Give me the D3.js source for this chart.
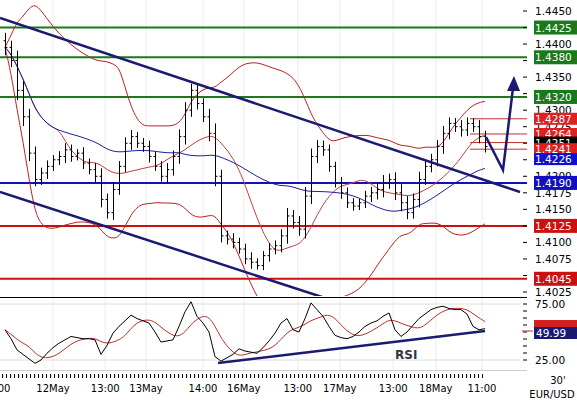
<!DOCTYPE html>
<html><head><meta charset="utf-8">
<script src="https://cdn.jsdelivr.net/npm/d3@7"></script>
<style>body{margin:0;background:#fff}svg{display:block;font-family:"DejaVu Sans",Verdana,sans-serif}</style>
</head><body><svg id="chart" width="577" height="402"></svg>
<script>
// EUR/USD 30' closes
const closes = [1.4395,1.4375,1.4330,1.4290,1.4235,1.4195,1.4205,1.4215,1.4225,1.4230,
  1.4240,1.4230,1.4235,1.4220,1.4210,1.4200,1.4165,1.4145,1.4180,1.4215,
  1.4250,1.4260,1.4250,1.4245,1.4230,1.4215,1.4200,1.4210,1.4230,1.4260,
  1.4300,1.4330,1.4310,1.4290,1.4265,1.4200,1.4110,1.4105,1.4100,1.4090,
  1.4075,1.4070,1.4065,1.4080,1.4090,1.4095,1.4110,1.4140,1.4130,1.4120,
  1.4170,1.4230,1.4245,1.4240,1.4215,1.4190,1.4175,1.4160,1.4155,1.4160,
  1.4170,1.4175,1.4180,1.4190,1.4195,1.4175,1.4160,1.4145,1.4165,1.4195,
  1.4215,1.4225,1.4245,1.4265,1.4280,1.4275,1.4270,1.4280,1.4275,1.4260,1.4245];
// bar extension beyond open/close, in pips
const ranges = [12,10,15,14,12,10,8,9,7,8,10,8,6,9,7,10,12,9,11,8,
  9,10,7,8,9,7,8,10,9,11,12,10,9,8,12,15,10,8,9,7,
  8,10,6,7,9,8,10,12,9,10,14,12,10,9,8,7,9,8,7,6,
  8,9,10,12,9,11,13,10,9,12,8,9,10,11,9,8,10,9,8,10,9];
const rsi = [52,44,34,30,26,22,25,31,36,40,43,46,45,44,44,43,30,38,49,55,
  60,65,62,60,58,50,41,42,43,55,68,77,64,58,50,28,24,27,30,35,
  33,32,31,36,42,49,58,62,52,50,62,76,70,64,55,47,45,44,46,50,
  55,58,60,64,67,52,46,50,56,62,66,70,72,73,71,70,70,66,55,52,53];
const levels = [
  {v:1.4425,c:"#1a7a1a"},{v:1.4380,c:"#1a7a1a"},{v:1.4320,c:"#1a7a1a"},
  {v:1.4190,c:"#1010c0"},{v:1.4125,c:"#cc1010"},{v:1.4045,c:"#cc1010"}];
const priceTags = [{v:1.4287,c:"#e02020"},{v:1.4264,c:"#e02020"},{v:1.4251,c:"#000"},
  {v:1.4241,c:"#e02020"},{v:1.4226,c:"#1010d0"}];
const priceTicks = [1.4450,1.4400,1.4350,1.4300,1.4275,1.4250,1.4200,1.4175,1.4150,1.4100,1.4075,1.4025];
const timeLabels = [[-1.5,"13:00"],[8,"12May"],[16.7,"13:00"],[23.5,"13May"],[33,"14:00"],[39.8,"16May"],
  [48.8,"13:00"],[55.8,"17May"],[64.7,"13:00"],[71.8,"18May"],[79.5,"11:00"]];

const svg = d3.select("#chart");
const x = d3.scaleLinear().domain([0,80]).range([5,485]);
const y = d3.scaleLinear().domain([1.4025,1.4450]).range([292,11]);
const yr = d3.scaleLinear().domain([25,75]).range([360,304]);
const navy = "#1a1a70";

const clip = svg.append("defs").append("clipPath").attr("id","pc");
clip.append("rect").attr("x",0).attr("y",0).attr("width",527).attr("height",296);

// grid
svg.append("g").selectAll("line").data(timeLabels).join("line")
  .attr("x1",d=>x(d[0])).attr("x2",d=>x(d[0])).attr("y1",0).attr("y2",370)
  .attr("stroke","#ececec");
[75,25].forEach(v=>svg.append("line").attr("x1",0).attr("x2",520).attr("y1",yr(v)).attr("y2",yr(v)).attr("stroke","#ddd"));

const main = svg.append("g").attr("clip-path","url(#pc)");
levels.forEach(l=>main.append("line").attr("x1",0).attr("x2",527).attr("y1",y(l.v)).attr("y2",y(l.v))
  .attr("stroke",l.c).attr("stroke-width",2));
priceTags.slice(0,4).forEach(t=>main.append("line").attr("x1",470).attr("x2",527).attr("y1",y(t.v)).attr("y2",y(t.v))
  .attr("stroke","#c03030").attr("stroke-width",1));

// indicators
function sma(n){return closes.map((c,i)=>d3.mean(closes.slice(Math.max(0,i-n+1),i+1)));}
function sd(n){return closes.map((c,i)=>d3.deviation(closes.slice(Math.max(0,i-n+1),i+1))||0);}
const m20 = sma(20), s20 = sd(20), m10 = sma(10), m30 = sma(30);
const line = d3.line().x((d,i)=>x(i)).y(d=>y(d)).curve(d3.curveBasis);
[m20.map((m,i)=>m+2*s20[i]), m20.map((m,i)=>m-2*s20[i])].forEach(a=>
  main.append("path").attr("d",line(a)).attr("fill","none").attr("stroke","#c02020").attr("stroke-width",1));
main.append("path").attr("d",line(m10)).attr("fill","none").attr("stroke","#c04040");
main.append("path").attr("d",line(m30)).attr("fill","none").attr("stroke","#2020a0");

// bars
const bars = main.append("g").attr("stroke","#000").attr("stroke-width",1);
closes.forEach((c,i)=>{
  const o = i ? closes[i-1] : c + 0.0010, r = ranges[i]*0.0001;
  const hi = Math.max(o,c)+r, lo = Math.min(o,c)-r, xi = Math.round(x(i))+0.5;
  bars.append("line").attr("x1",xi).attr("x2",xi).attr("y1",y(hi)).attr("y2",y(lo));
  bars.append("line").attr("x1",xi-2).attr("x2",xi).attr("y1",y(o)).attr("y2",y(o));
  bars.append("line").attr("x1",xi).attr("x2",xi+2).attr("y1",y(c)).attr("y2",y(c));
});

// trend lines & arrow
main.append("line").attr("x1",0).attr("y1",18).attr("x2",520).attr("y2",192).attr("stroke",navy).attr("stroke-width",2.5);
main.append("line").attr("x1",0).attr("y1",192).attr("x2",322).attr("y2",297).attr("stroke",navy).attr("stroke-width",2.5);
svg.append("polyline").attr("points","486,137 503,170 513,88").attr("fill","none").attr("stroke",navy).attr("stroke-width",2.5);
svg.append("polygon").attr("points","514,76 507,91 520,91").attr("fill",navy);

// separators / axes
svg.append("line").attr("x1",0).attr("x2",527).attr("y1",297.5).attr("y2",297.5).attr("stroke","#000");
svg.append("line").attr("x1",0).attr("x2",527).attr("y1",370.5).attr("y2",370.5).attr("stroke","#ccc");
const ax = svg.append("g").attr("font-size",10.5);
d3.range(1.4025,1.4451,0.0025).forEach(v=>ax.append("line").attr("x1",523).attr("x2",527).attr("y1",y(v)).attr("y2",y(v)).attr("stroke","#000"));
priceTicks.forEach(v=>ax.append("text").attr("x",535).attr("y",y(v)+4).text(v.toFixed(4)));
levels.forEach(l=>{
  ax.append("rect").attr("x",534).attr("y",y(l.v)-7).attr("width",43).attr("height",14).attr("fill",l.c);
  ax.append("text").attr("x",535).attr("y",y(l.v)+4).attr("fill","#fff").text(l.v.toFixed(4));
});
priceTags.forEach(t=>{
  ax.append("rect").attr("x",534).attr("y",y(t.v)-6).attr("width",43).attr("height",12).attr("fill",t.c);
  ax.append("text").attr("x",535).attr("y",y(t.v)+4).attr("fill","#fff").text(t.v.toFixed(4));
});

// RSI
const rl = d3.line().x((d,i)=>x(i)).y(d=>yr(d));
const rsiMa = rsi.map((v,i)=>d3.mean(rsi.slice(Math.max(0,i-4),i+1)));
svg.append("path").attr("d",rl.curve(d3.curveBasis)(rsiMa)).attr("fill","none").attr("stroke","#c03030");
svg.append("path").attr("d",rl.curve(d3.curveLinear)(rsi)).attr("fill","none").attr("stroke","#000");
svg.append("line").attr("x1",218).attr("y1",363).attr("x2",485).attr("y2",331).attr("stroke",navy).attr("stroke-width",2.5);
svg.append("text").attr("x",395).attr("y",359).attr("font-size",12).attr("font-weight","bold").attr("fill","#334").text("RSI");
[75,25].forEach(v=>ax.append("text").attr("x",535).attr("y",yr(v)+4).text(v.toFixed(2)));
d3.range(25,76,6.25).forEach(v=>ax.append("line").attr("x1",523).attr("x2",527).attr("y1",yr(v)).attr("y2",yr(v)).attr("stroke","#000"));
ax.append("line").attr("x1",522).attr("x2",533).attr("y1",331).attr("y2",331).attr("stroke","#c03030");
ax.append("rect").attr("x",534).attr("y",320).attr("width",43).attr("height",7).attr("fill","#d02020");
ax.append("rect").attr("x",534).attr("y",327).attr("width",43).attr("height",12).attr("fill","#1a1a70");
ax.append("text").attr("x",536).attr("y",337).attr("fill","#fff").text("49.99");

// time axis
svg.append("g").selectAll("line").data(d3.range(0,121)).join("line")
  .attr("x1",d=>2+d*4+0.5).attr("x2",d=>2+d*4+0.5).attr("y1",374).attr("y2",378).attr("stroke","#000");
ax.selectAll(".tl").data(timeLabels).join("text").attr("x",d=>x(d[0])).attr("y",392)
  .attr("text-anchor","middle").attr("font-size",10).text(d=>d[1]);
ax.append("text").attr("x",558).attr("y",384).attr("text-anchor","middle").attr("font-size",10).text("30'");
ax.append("text").attr("x",552).attr("y",398).attr("text-anchor","middle").attr("font-size",10).text("EUR/USD");
</script></body></html>
